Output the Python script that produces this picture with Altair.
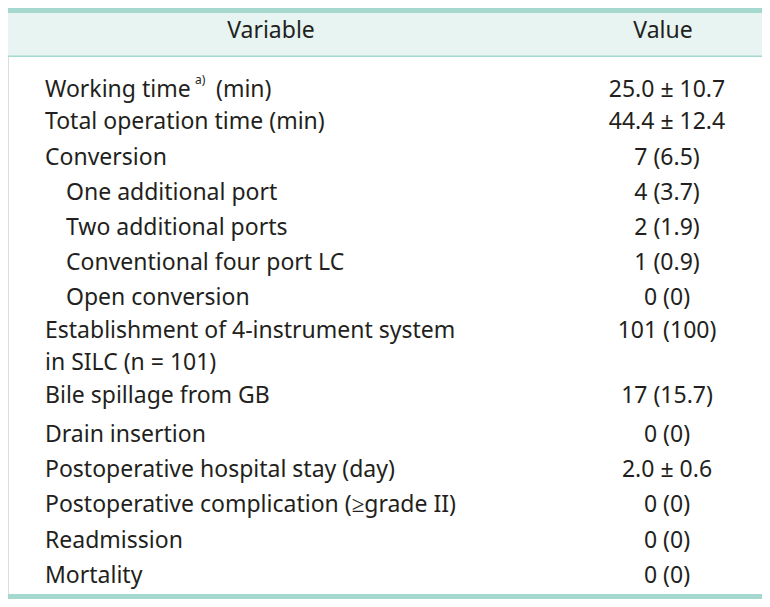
import altair as alt
import pandas as pd

# ---- table content ----
variables = [
    "Working time",
    "Total operation time (min)",
    "Conversion",
    "One additional port",
    "Two additional ports",
    "Conventional four port LC",
    "Open conversion",
    "Establishment of 4-instrument system\nin SILC (n = 101)",
    "Bile spillage from GB",
    "Drain insertion",
    "Postoperative hospital stay (day)",
    "Postoperative complication (\u2265grade II)",
    "Readmission",
    "Mortality",
]
values = [
    "25.0 \u00b1 10.7",
    "44.4 \u00b1 12.4",
    "7 (6.5)",
    "4 (3.7)",
    "2 (1.9)",
    "1 (0.9)",
    "0 (0)",
    "101 (100)",
    "17 (15.7)",
    "0 (0)",
    "2.0 \u00b1 0.6",
    "0 (0)",
    "0 (0)",
    "0 (0)",
]
# indent level: 0 = main row, 1 = sub-item, 2 = wrapped row
indent = [0, 0, 0, 1, 1, 1, 1, 2, 0, 0, 0, 0, 0, 0]
# line step before each row, in row units (row after the wrapped one is further down)
step = [0, 0.92, 1, 1, 1, 1, 1, 0.93, 1.85, 1.1, 1, 1, 1, 1]
headers = ["Variable", "Value"]
footnote_mark = "a)"
unit_suffix = "(min)"

line = []
acc = 0.0
for s in step:
    acc += s
    line.append(acc)

df = pd.DataFrame({"variable": variables, "value": values,
                   "indent": indent, "line": line})

W, H = 754, 591
FONT = "Noto Sans"
TXT = "#231f20"
TEAL = "#a5d8ce"
BAND = "#e7f4f1"
FS = 23

yscale = alt.Scale(domain=[-2.33, 14.46], range=[0, H])
xscale = alt.Scale(domain=[0, W], range=[0, W])

base = alt.Chart(df)

band = alt.Chart(pd.DataFrame({"a": [0]})).mark_rect(color=BAND).encode(
    x=alt.value(0), x2=alt.value(W), y=alt.value(2), y2=alt.value(48))
top = alt.Chart(pd.DataFrame({"a": [0]})).mark_rect(color=TEAL).encode(
    x=alt.value(0), x2=alt.value(W), y=alt.value(0), y2=alt.value(5))
sep = alt.Chart(pd.DataFrame({"a": [0]})).mark_rect(color=TEAL).encode(
    x=alt.value(0), x2=alt.value(W), y=alt.value(47.5), y2=alt.value(49))
bottom = alt.Chart(pd.DataFrame({"a": [0]})).mark_rect(color=TEAL).encode(
    x=alt.value(0), x2=alt.value(W), y=alt.value(H - 5), y2=alt.value(H))

hdr = alt.Chart(pd.DataFrame({"h": headers, "c": [0, 1]})).transform_calculate(
    px="datum.c == 0 ? 263 : 655", ly="-1.68"
).mark_text(font=FONT, fontSize=FS, color=TXT, baseline="middle", align="center").encode(
    x=alt.X("px:Q", scale=xscale, axis=None),
    y=alt.Y("ly:Q", scale=yscale, axis=None),
    text="h:N")

labels = base.transform_calculate(
    px="datum.indent == 1 ? 58 : 37",
).mark_text(font=FONT, fontSize=FS, color=TXT, baseline="middle", align="left",
            lineBreak="\n", lineHeight=32).encode(
    x=alt.X("px:Q", scale=xscale, axis=None),
    y=alt.Y("line:Q", scale=yscale, axis=None),
    text="variable:N")

vals = base.transform_calculate(px="659").mark_text(
    font=FONT, fontSize=FS, color=TXT, baseline="middle", align="center").encode(
    x=alt.X("px:Q", scale=xscale, axis=None),
    y=alt.Y("line:Q", scale=yscale, axis=None),
    text="value:N")

first = base.transform_filter("datum.line == 0")
sup = first.transform_calculate(px="37", t="'" + footnote_mark + "'").mark_text(
    font=FONT, fontSize=12, color=TXT, baseline="middle", align="left", dx=150, dy=-10).encode(
    x=alt.X("px:Q", scale=xscale, axis=None),
    y=alt.Y("line:Q", scale=yscale, axis=None),
    text="t:N")
suffix = first.transform_calculate(px="37", t="'" + unit_suffix + "'").mark_text(
    font=FONT, fontSize=FS, color=TXT, baseline="middle", align="left", dx=171).encode(
    x=alt.X("px:Q", scale=xscale, axis=None),
    y=alt.Y("line:Q", scale=yscale, axis=None),
    text="t:N")

chart = alt.layer(band, top, sep, bottom, hdr, labels, vals, sup, suffix).properties(
    width=W, height=H, padding=0, autosize=alt.AutoSizeParams(type="none")
).configure_view(stroke=None).configure(background="white")

chart.save("out.html", embed_options={"renderer": "svg", "actions": False})
